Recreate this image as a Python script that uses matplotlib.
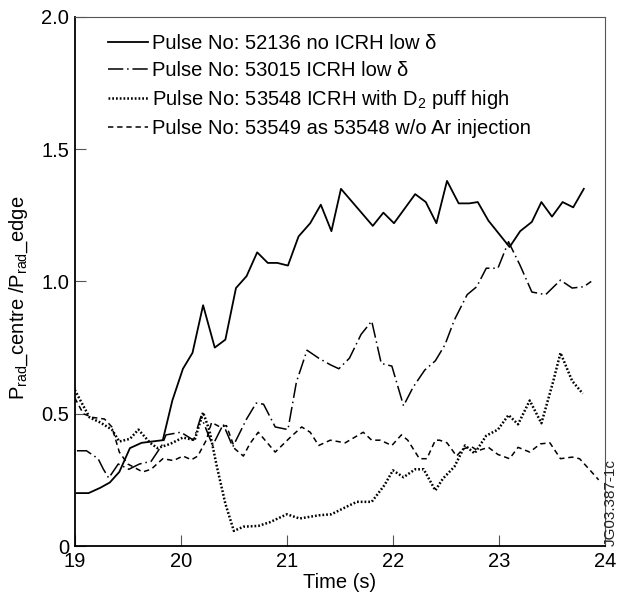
import numpy as np
import matplotlib
matplotlib.use("Agg")
import matplotlib.pyplot as plt

plt.rcParams['font.family'] = ['Liberation Sans', 'DejaVu Sans']
plt.rcParams['mathtext.fontset'] = 'custom'
plt.rcParams['mathtext.rm'] = 'Liberation Sans'
plt.rcParams['mathtext.it'] = 'Liberation Sans'
plt.rcParams['font.size'] = 14.5

# Pulse 52136 no ICRH low delta (solid)
t_52136 = [19.02, 19.13, 19.24, 19.33, 19.42, 19.52, 19.63, 19.83, 19.92, 20.02, 20.11,
           20.21, 20.32, 20.42, 20.52, 20.62, 20.72, 20.82, 20.91, 21.01, 21.11, 21.22,
           21.32, 21.42, 21.51, 21.81, 21.91, 22.01, 22.11, 22.21, 22.31, 22.41, 22.51,
           22.62, 22.72, 22.80, 22.90, 23.00, 23.10, 23.20, 23.31, 23.40, 23.50, 23.60,
           23.70, 23.80]
v_52136 = [0.20, 0.20, 0.22, 0.24, 0.28, 0.37, 0.39, 0.40, 0.55, 0.67, 0.73,
           0.91, 0.75, 0.78, 0.975, 1.02, 1.11, 1.07, 1.07, 1.06, 1.17, 1.22,
           1.29, 1.19, 1.35, 1.21, 1.26, 1.22, 1.275, 1.33, 1.30, 1.22, 1.38,
           1.295, 1.295, 1.30, 1.23, 1.18, 1.13, 1.19, 1.225, 1.30, 1.245, 1.30,
           1.28, 1.35]

# Pulse 53015 ICRH low delta (dash-dot)
t_53015 = [19.02, 19.11, 19.22, 19.27, 19.32, 19.41, 19.51, 19.61, 19.72, 19.82, 19.86,
           20.00, 20.12, 20.19, 20.30, 20.40, 20.49, 20.62, 20.71, 20.78, 20.89, 21.01,
           21.09, 21.19, 21.30, 21.41, 21.49, 21.59, 21.70, 21.80, 21.89, 21.99, 22.10,
           22.19, 22.30, 22.40, 22.49, 22.58, 22.70, 22.79, 22.88, 22.99, 23.09, 23.20,
           23.31, 23.44, 23.58, 23.69, 23.80, 23.87]
v_53015 = [0.36, 0.36, 0.33, 0.29, 0.257, 0.31, 0.29, 0.31, 0.32, 0.38, 0.42,
           0.43, 0.40, 0.49, 0.38, 0.46, 0.375, 0.48, 0.54, 0.536, 0.45, 0.44,
           0.62, 0.74, 0.71, 0.685, 0.67, 0.71, 0.80, 0.85, 0.69, 0.68, 0.53,
           0.60, 0.665, 0.70, 0.76, 0.855, 0.95, 0.98, 1.05, 1.05, 1.15, 1.06,
           0.96, 0.95, 1.005, 0.975, 0.98, 1.00]

# Pulse 53548 ICRH with D2 puff high (dotted)
t_53548 = [19.00, 19.08, 19.14, 19.24, 19.35, 19.42, 19.52, 19.60, 19.71, 19.78, 19.90,
           20.02, 20.13, 20.21, 20.27, 20.34, 20.42, 20.50, 20.59, 20.73, 20.84, 21.00,
           21.12, 21.30, 21.42, 21.56, 21.66, 21.80, 21.92, 22.00, 22.10, 22.21, 22.29,
           22.40, 22.47, 22.58, 22.68, 22.77, 22.88, 22.99, 23.09, 23.18, 23.29, 23.40,
           23.51, 23.58, 23.69, 23.79]
v_53548 = [0.59, 0.53, 0.486, 0.467, 0.44, 0.395, 0.405, 0.44, 0.39, 0.37, 0.386,
           0.41, 0.40, 0.505, 0.436, 0.30, 0.16, 0.057, 0.073, 0.076, 0.09, 0.12,
           0.104, 0.116, 0.12, 0.148, 0.167, 0.167, 0.23, 0.286, 0.26, 0.29, 0.29,
           0.21, 0.254, 0.30, 0.38, 0.35, 0.417, 0.44, 0.495, 0.46, 0.55, 0.464,
           0.62, 0.73, 0.624, 0.576]

# Pulse 53549 as 53548 w/o Ar injection (dashed)
t_53549 = [19.00, 19.08, 19.17, 19.28, 19.35, 19.42, 19.50, 19.64, 19.72, 19.83, 19.93,
           20.02, 20.10, 20.16, 20.24, 20.29, 20.37, 20.43, 20.51, 20.59, 20.65, 20.73,
           20.89, 21.03, 21.14, 21.22, 21.30, 21.41, 21.55, 21.72, 21.80, 21.88, 21.99,
           22.08, 22.14, 22.25, 22.32, 22.40, 22.44, 22.51, 22.60, 22.66, 22.74, 22.80,
           22.90, 22.99, 23.10, 23.18, 23.29, 23.39, 23.48, 23.58, 23.69, 23.76, 23.86,
           23.94]
v_53549 = [0.56, 0.50, 0.486, 0.48, 0.45, 0.355, 0.31, 0.28, 0.29, 0.33, 0.323,
           0.34, 0.326, 0.34, 0.40, 0.467, 0.45, 0.455, 0.367, 0.34, 0.386, 0.43,
           0.355, 0.41, 0.45, 0.43, 0.38, 0.40, 0.39, 0.43, 0.40, 0.40, 0.38,
           0.42, 0.40, 0.33, 0.33, 0.40, 0.40, 0.39, 0.34, 0.367, 0.376, 0.36,
           0.373, 0.346, 0.33, 0.373, 0.355, 0.386, 0.39, 0.33, 0.336, 0.33, 0.286,
           0.25]

labels = ["Pulse No: 52136 no ICRH low \u03b4",
          "Pulse No: 53015 ICRH low \u03b4",
          "Pulse No: 53548 ICRH with D$_2$ puff high",
          "Pulse No: 53549 as 53548 w/o Ar injection"]

xticks = [19, 20, 21, 22, 23, 24]
yticks = [0, 0.5, 1.0, 1.5, 2.0]
ytick_labels = ["0", "0.5", "1.0", "1.5", "2.0"]

fig = plt.figure(figsize=(6.18, 6.02), dpi=100)
ax = fig.add_axes([0.121, 0.093, 0.858, 0.879])

ax.plot(t_52136, v_52136, color='black', lw=1.3, linestyle='-', label=labels[0])
ax.plot(t_53015, v_53015, color='black', lw=1.1, linestyle=(0, (10, 2.5, 1, 2.5)), label=labels[1])
ax.plot(t_53548, v_53548, color='black', lw=1.8, linestyle=(0, (0.7, 0.8)), label=labels[2])
ax.plot(t_53549, v_53549, color='black', lw=1.1, linestyle=(0, (3.5, 2.5)), label=labels[3])

ax.set_xlim(19, 24)
ax.set_ylim(0, 2.0)
ax.set_xticks(xticks)
ax.set_yticks(yticks)
ax.set_yticklabels(ytick_labels)
ax.tick_params(direction='in', length=8, width=0.8, color='#555555', pad=4, labelsize=14.5)

ax.spines['left'].set_linewidth(1.3)
ax.spines['bottom'].set_linewidth(1.3)
for s in ['top', 'right']:
    ax.spines[s].set_linewidth(0.8)
    ax.spines[s].set_color('#555555')

ax.set_xlabel("Time (s)", fontsize=14.5, labelpad=2)
ax.set_ylabel("P$_{\\mathrm{rad}}$_centre /P$_{\\mathrm{rad}}$_edge", fontsize=14.5, labelpad=6)
ax.yaxis.set_label_coords(-0.085, 0.47)

ax.legend(loc='upper left', bbox_to_anchor=(0.062, 0.968), frameon=False, borderpad=0,
          borderaxespad=0, handlelength=2.0, handletextpad=0.2, labelspacing=0.4,
          fontsize=14.5)

fig.text(0.988, 0.093, "JG03.387-1c", rotation=90, fontsize=11, ha='center', va='bottom',
         color='#222222')

plt.savefig("out.png", dpi=100)
